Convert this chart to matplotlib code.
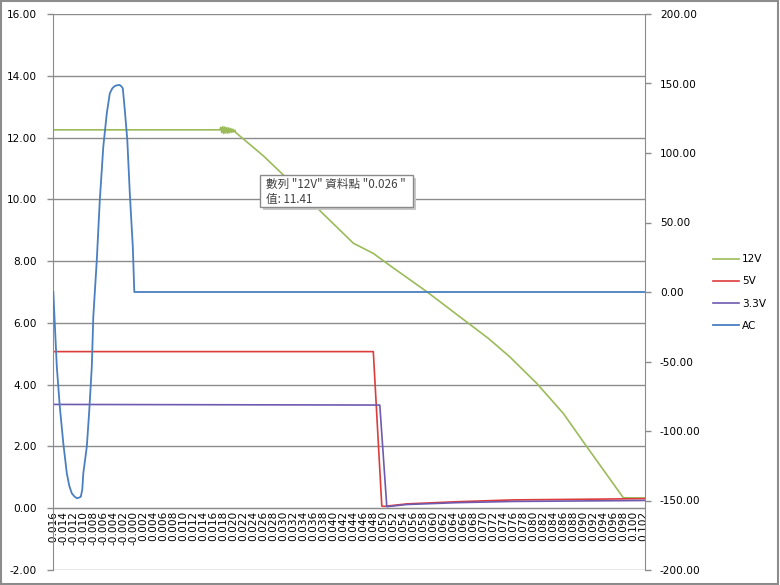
import numpy as np
import matplotlib
matplotlib.use("Agg")
import matplotlib.pyplot as plt
from matplotlib.patches import Rectangle
from matplotlib.ticker import FormatStrFormatter

# Readings off the scope capture (time in s)
t_12v = [-0.016, 0.0173, 0.0175, 0.0177, 0.0179, 0.0181, 0.0183, 0.0185, 0.0187,
         0.0189, 0.0191, 0.0193, 0.0195, 0.0197, 0.0199, 0.0201, 0.0203, 0.0205,
         0.026, 0.030, 0.044, 0.048, 0.0507,
         0.0587, 0.0613, 0.067, 0.071, 0.0753, 0.0807, 0.086, 0.0907, 0.098, 0.1022]
v_12v = [12.25, 12.25, 12.33, 12.16, 12.35, 12.13, 12.34, 12.15, 12.32,
         12.14, 12.31, 12.16, 12.29, 12.17, 12.27, 12.18, 12.24, 12.16,
         11.41, 10.79, 8.58, 8.25, 7.93,
         7.01, 6.69, 5.99, 5.50, 4.90, 4.04, 3.07, 1.99, 0.34, 0.33]

t_5v = [-0.016, 0.048, 0.0497, 0.0502, 0.0547, 0.0647, 0.076, 0.090, 0.1022]
v_5v = [5.07, 5.07, 0.07, 0.06, 0.14, 0.21, 0.27, 0.29, 0.31]

t_33v = [-0.016, 0.0493, 0.0507, 0.0547, 0.0647, 0.076, 0.1022]
v_33v = [3.36, 3.34, 0.05, 0.12, 0.18, 0.22, 0.25]

t_ac = [-0.016, -0.0153, -0.0147, -0.0140, -0.0133, -0.0128, -0.0123, -0.0118,
        -0.0113, -0.0109, -0.0105, -0.0102, -0.0100, -0.0093, -0.0088, -0.0083,
        -0.0080, -0.0073, -0.0067, -0.0060, -0.0053, -0.0047, -0.0042, -0.0037,
        -0.0032, -0.0027, -0.0024, -0.0021, -0.0017, -0.0012, -0.0007, -0.0001,
        0.0002, 0.1022]
v_ac = [0.0, -53.7, -82.5, -108.8, -130.4, -139.5, -144.8, -147.0,
        -148.4, -148.0, -147.3, -142.0, -130.4, -111.3, -84.9, -53.7,
        -17.8, 23.0, 66.2, 104.5, 128.6, 142.9, 146.5, 148.2,
        148.8, 148.9, 148.0, 146.5, 130.9, 109.4, 71.0, 32.6,
        0.0, 0.0]

tick_labels = ["-0.016", "-0.014", "-0.012", "-0.010", "-0.008", "-0.006", "-0.004",
               "-0.002", "-0.000"] + ["%.3f" % (0.002 * i) for i in range(1, 52)]
tick_pos = [-0.016 + 0.002 * i for i in range(len(tick_labels))]

grey = "#8c8c8c"
fs = 7.6

fig = plt.figure(figsize=(7.8, 5.85), dpi=100)
ax = fig.add_axes([53.3 / 780, 15 / 585, (644.5 - 53.3) / 780, 556 / 585])

ax.plot(t_12v, v_12v, color="#9BBB59", lw=1.2, label="12V")
ax.plot(t_5v, v_5v, color="#DD3C3C", lw=1.2, label="5V")
ax.plot(t_33v, v_33v, color="#6E5AB0", lw=1.2, label="3.3V")

for s in ["top", "right"]:
    ax.spines[s].set_visible(False)
ax.spines["left"].set_color(grey)
ax.spines["bottom"].set_color(grey)
ax.spines["bottom"].set_position(("data", 0))

ax.set_xlim(-0.016, 0.10224)
ax.set_ylim(-2, 16)
ax.set_yticks(np.arange(-2, 17, 2))
ax.yaxis.set_major_formatter(FormatStrFormatter("%.2f"))
ax.set_xticks(tick_pos)
ax.set_xticklabels(tick_labels)
ax.tick_params(axis="x", length=0, pad=2, labelrotation=90, labelsize=fs)
ax.tick_params(axis="y", length=4, width=1, color=grey, pad=8, labelsize=fs)
ax.grid(axis="y", color=grey, lw=1)
ax.set_axisbelow(True)

ax2 = ax.twinx()
ax2.plot(t_ac, v_ac, color="#4A7FC0", lw=1.3, label="AC")
ax2.set_ylim(-200, 200)
ax2.set_yticks(np.arange(-200, 201, 50))
ax2.yaxis.set_major_formatter(FormatStrFormatter("%.2f"))
ax2.tick_params(axis="y", length=4, width=1, color=grey, pad=7, labelsize=fs)
for s in ["top", "left", "bottom"]:
    ax2.spines[s].set_visible(False)
ax2.spines["right"].set_color(grey)

h1, l1 = ax.get_legend_handles_labels()
h2, l2 = ax2.get_legend_handles_labels()
fig.legend(h1 + h2, l1 + l2, loc="center left", bbox_to_anchor=(713 / 780, 0.5),
           frameon=False, fontsize=fs, handlelength=2.45, handletextpad=0.3,
           labelspacing=1.15, borderpad=0, borderaxespad=0)

# hover tooltip from the Excel screenshot
fig.add_artist(Rectangle((263 / 780, 1 - 210 / 585), 153 / 780, 32 / 585,
                         transform=fig.transFigure, facecolor="#c8c8c8",
                         edgecolor="none", zorder=10))
fig.add_artist(Rectangle((260 / 780, 1 - 207 / 585), 153 / 780, 32 / 585,
                         transform=fig.transFigure, facecolor="white",
                         edgecolor="#8a8a8a", lw=1, zorder=11))
cjk = ["Noto Sans CJK TC", "DejaVu Sans"]
fig.text(266 / 780, 1 - 184 / 585, '數列 "12V" 資料點 "0.026 "', family=cjk,
         fontsize=8.4, color="#404040", va="center", zorder=12)
fig.text(266 / 780, 1 - 199 / 585, "值: 11.41", family=cjk,
         fontsize=8.4, color="#404040", va="center", zorder=12)

fig.add_artist(Rectangle((0.001, 0.001), 0.997, 0.997, transform=fig.transFigure,
                         fill=False, edgecolor=grey, lw=1.5))

fig.savefig("out.png", dpi=100)
